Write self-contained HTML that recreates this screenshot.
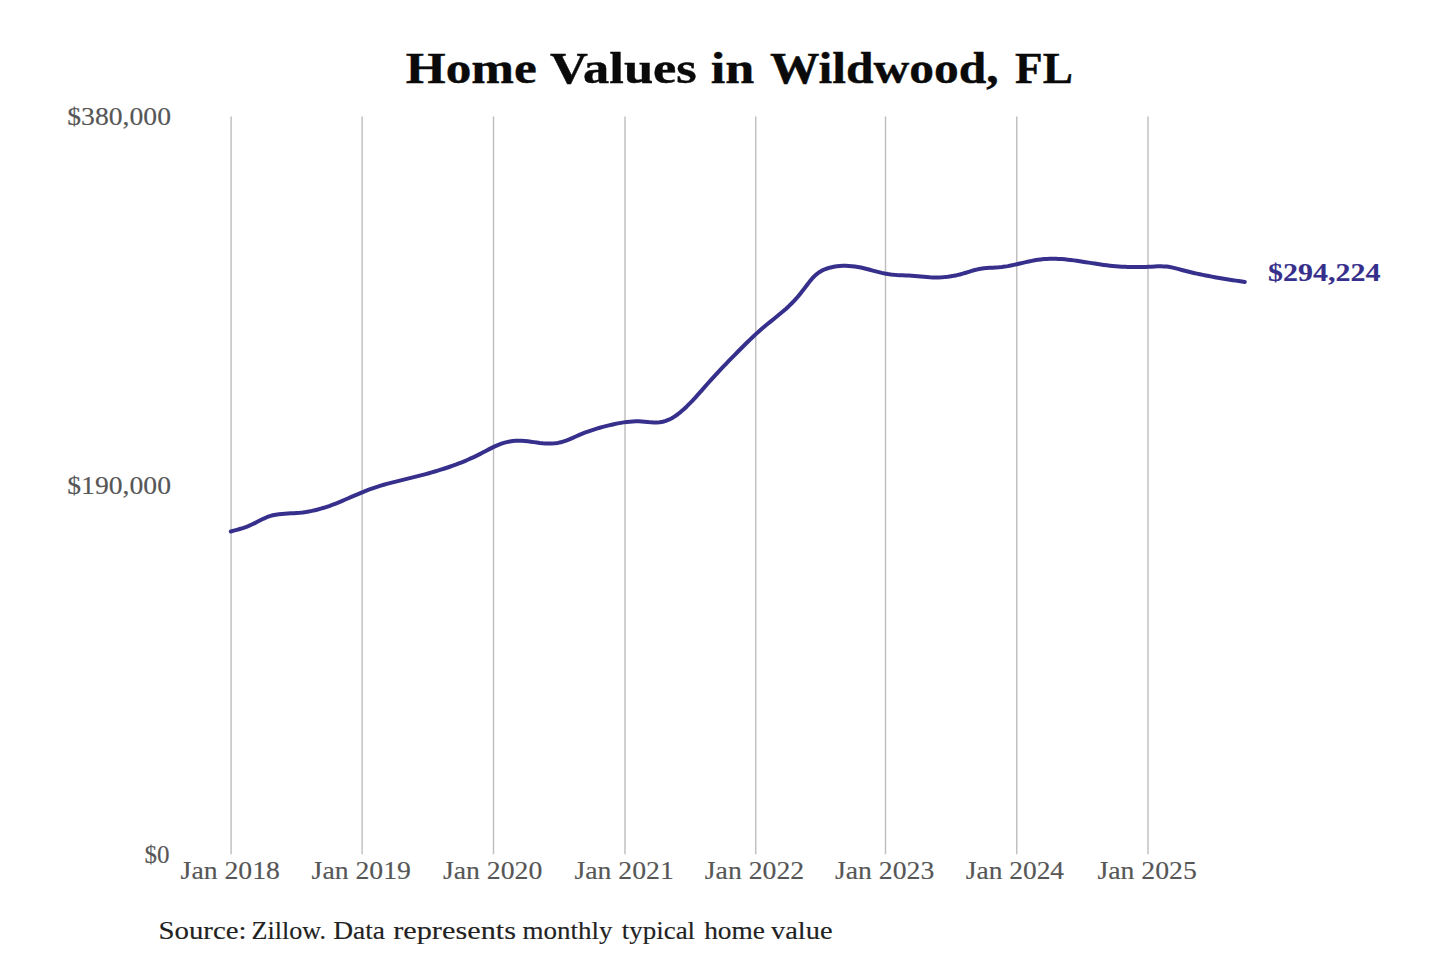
<!DOCTYPE html>
<html><head><meta charset="utf-8"><title>Home Values in Wildwood, FL</title>
<style>
html,body{margin:0;padding:0;background:#fff;}
body{width:1440px;height:960px;overflow:hidden;position:relative;}
svg{position:absolute;left:0;top:0;display:block;}
.title{font-family:"Liberation Serif",serif;font-weight:bold;font-size:44px;fill:#0a0a0a;stroke:#0a0a0a;stroke-width:0.4px;}
.ax{font-family:"Liberation Serif",serif;font-size:25.5px;fill:#565656;stroke:#565656;stroke-width:0.15px;}
.endlab{font-family:"Liberation Serif",serif;font-weight:bold;font-size:25.5px;fill:#36308c;stroke:#36308c;stroke-width:0.1px;}
.src{font-family:"Liberation Serif",serif;font-size:25.5px;fill:#222222;stroke:#222222;stroke-width:0.15px;}
</style></head>
<body>
<svg width="1440" height="960" viewBox="0 0 1440 960">
<rect x="0" y="0" width="1440" height="960" fill="#ffffff"/>
<g stroke="#bdbdbd" stroke-width="1.4" fill="none">
<line x1="231.10" y1="116.6" x2="231.10" y2="854.2"/>
<line x1="362.10" y1="116.6" x2="362.10" y2="854.2"/>
<line x1="493.50" y1="116.6" x2="493.50" y2="854.2"/>
<line x1="625.00" y1="116.6" x2="625.00" y2="854.2"/>
<line x1="755.75" y1="116.6" x2="755.75" y2="854.2"/>
<line x1="885.50" y1="116.6" x2="885.50" y2="854.2"/>
<line x1="1016.75" y1="116.6" x2="1016.75" y2="854.2"/>
<line x1="1148.00" y1="116.6" x2="1148.00" y2="854.2"/>
</g>
<path d="M230.8 531.49 L233.8 530.66 L236.8 529.83 L239.8 528.97 L242.8 528.05 L245.8 527.02 L248.8 525.86 L251.8 524.54 L254.8 523.08 L257.8 521.54 L260.8 520.01 L263.8 518.55 L266.8 517.24 L269.8 516.13 L272.8 515.29 L275.8 514.69 L278.8 514.26 L281.8 513.95 L284.8 513.71 L287.8 513.52 L290.8 513.36 L293.8 513.20 L296.8 513.00 L299.8 512.74 L302.8 512.41 L305.8 511.99 L308.8 511.48 L311.8 510.90 L314.8 510.23 L317.8 509.49 L320.8 508.67 L323.8 507.78 L326.8 506.81 L329.8 505.78 L332.8 504.67 L335.8 503.51 L338.8 502.30 L341.8 501.05 L344.8 499.77 L347.8 498.47 L350.8 497.17 L353.8 495.86 L356.8 494.56 L359.8 493.29 L362.8 492.04 L365.8 490.84 L368.8 489.68 L371.8 488.59 L374.8 487.55 L377.8 486.58 L380.8 485.65 L383.8 484.77 L386.8 483.92 L389.8 483.11 L392.8 482.33 L395.8 481.57 L398.8 480.83 L401.8 480.09 L404.8 479.37 L407.8 478.64 L410.8 477.91 L413.8 477.17 L416.8 476.41 L419.8 475.65 L422.8 474.86 L425.8 474.06 L428.8 473.24 L431.8 472.39 L434.8 471.52 L437.8 470.63 L440.8 469.70 L443.8 468.75 L446.8 467.76 L449.8 466.74 L452.8 465.68 L455.8 464.59 L458.8 463.45 L461.8 462.27 L464.8 461.04 L467.8 459.77 L470.8 458.44 L473.8 457.06 L476.8 455.62 L479.8 454.12 L482.8 452.56 L485.8 450.97 L488.8 449.39 L491.8 447.85 L494.8 446.40 L497.8 445.07 L500.8 443.90 L503.8 442.92 L506.8 442.13 L509.8 441.51 L512.8 441.07 L515.8 440.81 L518.8 440.71 L521.8 440.78 L524.8 440.99 L527.8 441.31 L530.8 441.70 L533.8 442.13 L536.8 442.55 L539.8 442.95 L542.8 443.27 L545.8 443.50 L548.8 443.60 L551.8 443.55 L554.8 443.33 L557.8 442.91 L560.8 442.25 L563.8 441.37 L566.8 440.30 L569.8 439.09 L572.8 437.80 L575.8 436.47 L578.8 435.14 L581.8 433.88 L584.8 432.69 L587.8 431.58 L590.8 430.53 L593.8 429.55 L596.8 428.62 L599.8 427.75 L602.8 426.92 L605.8 426.14 L608.8 425.40 L611.8 424.69 L614.8 424.03 L617.8 423.41 L620.8 422.85 L623.8 422.37 L626.8 421.96 L629.8 421.64 L632.8 421.43 L635.8 421.33 L638.8 421.35 L641.8 421.52 L644.8 421.79 L647.8 422.09 L650.8 422.37 L653.8 422.54 L656.8 422.54 L659.8 422.31 L662.8 421.77 L665.8 420.92 L668.8 419.73 L671.8 418.22 L674.8 416.38 L677.8 414.25 L680.8 411.86 L683.8 409.24 L686.8 406.42 L689.8 403.42 L692.8 400.28 L695.8 397.03 L698.8 393.70 L701.8 390.31 L704.8 386.90 L707.8 383.50 L710.8 380.13 L713.8 376.82 L716.8 373.56 L719.8 370.34 L722.8 367.17 L725.8 364.03 L728.8 360.93 L731.8 357.86 L734.8 354.81 L737.8 351.78 L740.8 348.76 L743.8 345.75 L746.8 342.78 L749.8 339.84 L752.8 336.97 L755.8 334.16 L758.8 331.44 L761.8 328.81 L764.8 326.27 L767.8 323.80 L770.8 321.37 L773.8 318.95 L776.8 316.53 L779.8 314.07 L782.8 311.55 L785.8 308.93 L788.8 306.18 L791.8 303.25 L794.8 300.11 L797.8 296.72 L800.8 293.11 L803.8 289.30 L806.8 285.33 L809.8 281.39 L812.8 277.79 L815.8 274.83 L818.8 272.49 L821.8 270.67 L824.8 269.28 L827.8 268.24 L830.8 267.43 L833.8 266.80 L836.8 266.33 L839.8 266.01 L842.8 265.85 L845.8 265.82 L848.8 265.93 L851.8 266.16 L854.8 266.51 L857.8 266.98 L860.8 267.55 L863.8 268.22 L866.8 268.96 L869.8 269.75 L872.8 270.56 L875.8 271.36 L878.8 272.14 L881.8 272.88 L884.8 273.53 L887.8 274.09 L890.8 274.53 L893.8 274.84 L896.8 275.05 L899.8 275.19 L902.8 275.30 L905.8 275.40 L908.8 275.53 L911.8 275.71 L914.8 275.96 L917.8 276.24 L920.8 276.53 L923.8 276.82 L926.8 277.07 L929.8 277.27 L932.8 277.39 L935.8 277.44 L938.8 277.39 L941.8 277.26 L944.8 277.04 L947.8 276.73 L950.8 276.31 L953.8 275.80 L956.8 275.18 L959.8 274.45 L962.8 273.62 L965.8 272.72 L968.8 271.80 L971.8 270.89 L974.8 270.05 L977.8 269.32 L980.8 268.75 L983.8 268.34 L986.8 268.06 L989.8 267.86 L992.8 267.71 L995.8 267.54 L998.8 267.33 L1001.8 267.02 L1004.8 266.60 L1007.8 266.10 L1010.8 265.53 L1013.8 264.90 L1016.8 264.23 L1019.8 263.53 L1022.8 262.83 L1025.8 262.14 L1028.8 261.48 L1031.8 260.86 L1034.8 260.29 L1037.8 259.80 L1040.8 259.41 L1043.8 259.11 L1046.8 258.91 L1049.8 258.80 L1052.8 258.77 L1055.8 258.82 L1058.8 258.94 L1061.8 259.12 L1064.8 259.36 L1067.8 259.66 L1070.8 260.00 L1073.8 260.37 L1076.8 260.78 L1079.8 261.22 L1082.8 261.68 L1085.8 262.15 L1088.8 262.62 L1091.8 263.10 L1094.8 263.58 L1097.8 264.04 L1100.8 264.49 L1103.8 264.91 L1106.8 265.30 L1109.8 265.66 L1112.8 265.97 L1115.8 266.24 L1118.8 266.47 L1121.8 266.67 L1124.8 266.82 L1127.8 266.93 L1130.8 267.01 L1133.8 267.05 L1136.8 267.06 L1139.8 267.04 L1142.8 266.98 L1145.8 266.89 L1148.8 266.78 L1151.8 266.63 L1154.8 266.48 L1157.8 266.37 L1160.8 266.32 L1163.8 266.38 L1166.8 266.59 L1169.8 266.99 L1172.8 267.59 L1175.8 268.35 L1178.8 269.18 L1181.8 270.01 L1184.8 270.80 L1187.8 271.56 L1190.8 272.28 L1193.8 272.98 L1196.8 273.64 L1199.8 274.29 L1202.8 274.90 L1205.8 275.50 L1208.8 276.08 L1211.8 276.63 L1214.8 277.18 L1217.8 277.70 L1220.8 278.22 L1223.8 278.73 L1226.8 279.22 L1229.8 279.70 L1232.8 280.17 L1235.8 280.63 L1238.8 281.07 L1241.8 281.49 L1244.8 281.90" fill="none" stroke="#36308c" stroke-width="4.0" stroke-linecap="round" stroke-linejoin="round"/>
<text x="405.8" y="83.3" class="title" text-anchor="start" textLength="131.0" lengthAdjust="spacingAndGlyphs">Home</text>
<text x="550.0" y="83.3" class="title" text-anchor="start" textLength="146.8" lengthAdjust="spacingAndGlyphs">Values</text>
<text x="710.8" y="83.3" class="title" text-anchor="start" textLength="43.5" lengthAdjust="spacingAndGlyphs">in</text>
<text x="770.0" y="83.3" class="title" text-anchor="start" textLength="228.5" lengthAdjust="spacingAndGlyphs">Wildwood,</text>
<text x="1015.0" y="83.3" class="title" text-anchor="start" textLength="57.8" lengthAdjust="spacingAndGlyphs">FL</text>
<text x="67.3" y="124.6" class="ax" text-anchor="start" textLength="103.7" lengthAdjust="spacingAndGlyphs">$380,000</text>
<text x="67.3" y="494.0" class="ax" text-anchor="start" textLength="103.7" lengthAdjust="spacingAndGlyphs">$190,000</text>
<text x="144.6" y="863.3" class="ax" text-anchor="start" textLength="25.0" lengthAdjust="spacingAndGlyphs">$0</text>
<text x="180.6" y="879.4" class="ax" text-anchor="start" textLength="99.3" lengthAdjust="spacingAndGlyphs">Jan 2018</text>
<text x="311.6" y="879.4" class="ax" text-anchor="start" textLength="99.3" lengthAdjust="spacingAndGlyphs">Jan 2019</text>
<text x="443.0" y="879.4" class="ax" text-anchor="start" textLength="99.3" lengthAdjust="spacingAndGlyphs">Jan 2020</text>
<text x="574.5" y="879.4" class="ax" text-anchor="start" textLength="99.3" lengthAdjust="spacingAndGlyphs">Jan 2021</text>
<text x="704.8" y="879.4" class="ax" text-anchor="start" textLength="99.3" lengthAdjust="spacingAndGlyphs">Jan 2022</text>
<text x="835.0" y="879.4" class="ax" text-anchor="start" textLength="99.3" lengthAdjust="spacingAndGlyphs">Jan 2023</text>
<text x="965.8" y="879.4" class="ax" text-anchor="start" textLength="98.3" lengthAdjust="spacingAndGlyphs">Jan 2024</text>
<text x="1097.5" y="879.4" class="ax" text-anchor="start" textLength="99.3" lengthAdjust="spacingAndGlyphs">Jan 2025</text>
<text x="1268.1" y="281.2" class="endlab" text-anchor="start" textLength="112.3" lengthAdjust="spacingAndGlyphs">$294,224</text>
<text x="158.5" y="938.8" class="src" text-anchor="start" textLength="88.1" lengthAdjust="spacingAndGlyphs">Source:</text>
<text x="251.5" y="938.8" class="src" text-anchor="start" textLength="74.6" lengthAdjust="spacingAndGlyphs">Zillow.</text>
<text x="333.2" y="938.8" class="src" text-anchor="start" textLength="51.8" lengthAdjust="spacingAndGlyphs">Data</text>
<text x="393.2" y="938.8" class="src" text-anchor="start" textLength="122.8" lengthAdjust="spacingAndGlyphs">represents</text>
<text x="522.5" y="938.8" class="src" text-anchor="start" textLength="90.0" lengthAdjust="spacingAndGlyphs">monthly</text>
<text x="621.8" y="938.8" class="src" text-anchor="start" textLength="73.3" lengthAdjust="spacingAndGlyphs">typical</text>
<text x="704.2" y="938.8" class="src" text-anchor="start" textLength="60.8" lengthAdjust="spacingAndGlyphs">home</text>
<text x="771.0" y="938.8" class="src" text-anchor="start" textLength="61.5" lengthAdjust="spacingAndGlyphs">value</text>
</svg>
</body></html>
